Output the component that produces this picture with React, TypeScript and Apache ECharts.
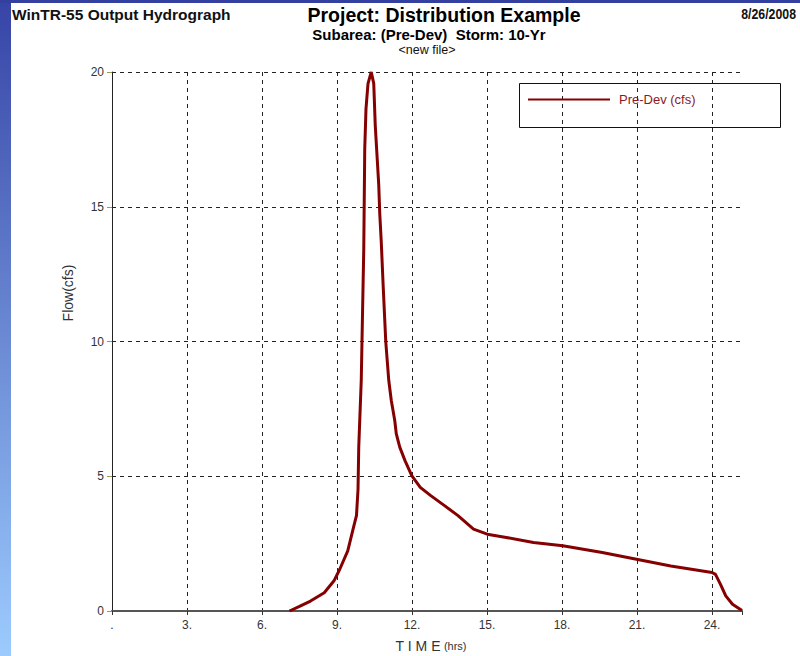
import React, { useEffect, useRef } from "react";
import * as echarts from "echarts";

const timeHrs = [
  7.1, 7.5, 7.94, 8.49, 8.88, 9.11, 9.43, 9.66, 9.78, 9.84, 9.87, 9.93, 9.97, 10.02, 10.07, 10.11, 10.16,
  10.24, 10.37, 10.47, 10.53, 10.6, 10.67, 10.71, 10.77, 10.85, 10.95, 11.07, 11.17, 11.31, 11.37,
  11.51, 11.72, 11.99, 12.33, 12.75, 13.3, 13.84, 14.46, 15.01, 15.77, 16.86, 18.03, 19.61, 20.98,
  22.35, 24.0, 24.14, 24.34, 24.55, 24.82, 25.2,
];
const flowCfs = [
  0, 0.17, 0.37, 0.68, 1.12, 1.55, 2.23, 3.1, 3.55, 4.5, 6.08, 7.57, 8.56, 11.0, 13.4, 17.16, 18.64,
  19.57, 20.0, 19.57, 18.02, 16.91, 15.8, 14.75, 13.7, 12.0, 10.0, 8.56, 7.82, 7.07, 6.58,
  6.08, 5.58, 5.02, 4.59, 4.28, 3.91, 3.54, 3.04, 2.85, 2.73, 2.54, 2.42, 2.17, 1.92,
  1.67, 1.43, 1.36, 0.99, 0.56, 0.25, 0.02,
];
const xTicks = [0, 3, 6, 9, 12, 15, 18, 21, 24];
const seriesName = "Pre-Dev (cfs)";

export default function App() {
  const ref = useRef<HTMLDivElement>(null);
  useEffect(() => {
    if (!ref.current) return;
    const chart = echarts.init(ref.current, null, { renderer: "svg" });
    const sans = "'Liberation Sans', Arial, sans-serif";
    chart.setOption({
      animation: false,
      backgroundColor: "#ffffff",
      grid: { left: 112, right: 58, top: 72, bottom: 45, containLabel: false },
      xAxis: {
        type: "value",
        min: 0,
        max: 25.2,
        interval: 3,
        axisLine: { show: true, onZero: false, lineStyle: { color: "#555555", width: 2 } },
        axisTick: { show: true, length: 4, inside: false, lineStyle: { color: "#333333" } },
        axisLabel: {
          color: "#333333",
          fontSize: 12,
          fontFamily: sans,
          margin: 8,
          formatter: (v: number) => {
            if (!xTicks.includes(Math.round(v * 100) / 100)) return "";
            return v === 0 ? "." : `${v}.`;
          },
        },
        splitLine: {
          show: true,
          showMinLine: false,
          showMaxLine: false,
          lineStyle: { color: "#222222", type: [4, 4], width: 1 },
        },
      },
      yAxis: {
        type: "value",
        min: 0,
        max: 20,
        interval: 5,
        axisLine: { show: true, lineStyle: { color: "#222222", width: 1 } },
        axisTick: { show: true, length: 5, lineStyle: { color: "#9a9a50" } },
        axisLabel: { color: "#333333", fontSize: 12, fontFamily: sans, margin: 8 },
        splitLine: {
          show: true,
          showMinLine: false,
          lineStyle: { color: "#222222", type: [4, 4], width: 1 },
        },
      },
      legend: {
        show: true,
        left: 528,
        top: 93,
        itemWidth: 82,
        itemHeight: 12,
        itemGap: 5,
        padding: 0,
        textStyle: { color: "#8b1a1a", fontSize: 13, fontFamily: sans, padding: [0, 0, 0, 4] },
        data: [{ name: seriesName, icon: "path://M0,5 L82,5 L82,7 L0,7 Z" }],
      },
      series: [
        {
          name: seriesName,
          type: "line",
          data: timeHrs.map((t, i) => [t, flowCfs[i]]),
          symbol: "none",
          clip: false,
          lineStyle: { color: "#850000", width: 3 },
          itemStyle: { color: "#850000" },
        },
      ],
      graphic: [
        {
          type: "rect",
          shape: { x: 0, y: 0, width: 11, height: 656 },
          style: {
            fill: new echarts.graphic.LinearGradient(0, 0, 0, 1, [
              { offset: 0, color: "#3644a6" },
              { offset: 1, color: "#9ccbfe" },
            ]),
          },
          silent: true,
        },
        {
          type: "rect",
          shape: { x: 0, y: 0, width: 800, height: 3 },
          style: { fill: "#33409f" },
          silent: true,
        },
        {
          type: "rect",
          shape: { x: 519.5, y: 83.5, width: 261, height: 44 },
          style: { fill: "none", stroke: "#111111", lineWidth: 1 },
          silent: true,
          z: 10,
        },
        {
          type: "text",
          x: 12,
          y: 14,
          style: {
            text: "WinTR-55 Output Hydrograph",
            font: `bold 15.5px ${sans}`,
            fill: "#111111",
            textVerticalAlign: "middle",
          },
        },
        {
          type: "text",
          x: 444,
          y: 15,
          style: {
            text: "Project: Distribution Example",
            font: `bold 19.5px ${sans}`,
            fill: "#000000",
            textAlign: "center",
            textVerticalAlign: "middle",
          },
        },
        {
          type: "text",
          x: 429,
          y: 34,
          style: {
            text: "Subarea: (Pre-Dev)  Storm: 10-Yr",
            font: `bold 15px ${sans}`,
            fill: "#000000",
            textAlign: "center",
            textVerticalAlign: "middle",
          },
        },
        {
          type: "text",
          x: 427,
          y: 50,
          style: {
            text: "<new file>",
            font: `12.5px ${sans}`,
            fill: "#111111",
            textAlign: "center",
            textVerticalAlign: "middle",
          },
        },
        {
          type: "text",
          x: 796,
          y: 14,
          scaleX: 0.88,
          style: {
            text: "8/26/2008",
            font: `bold 14px ${sans}`,
            fill: "#111111",
            textAlign: "right",
            textVerticalAlign: "middle",
          },
        },
        {
          type: "text",
          x: 68,
          y: 293,
          rotation: Math.PI / 2,
          style: {
            text: "Flow(cfs)",
            font: `14px ${sans}`,
            fill: "#333333",
            textAlign: "center",
            textVerticalAlign: "middle",
          },
        },
        {
          type: "text",
          x: 431,
          y: 646,
          style: {
            text: "{a|T I M E} {b|(hrs)}",
            rich: {
              a: { fontSize: 14, fontFamily: sans, fill: "#333333", color: "#333333" },
              b: { fontSize: 11, fontFamily: sans, fill: "#333333", color: "#333333" },
            },
            textAlign: "center",
            textVerticalAlign: "middle",
          },
        },
      ],
    });
    return () => chart.dispose();
  }, []);
  return (
    <div
      ref={ref}
      style={{ position: "fixed", left: 0, top: 0, width: 800, height: 656 }}
    />
  );
}
